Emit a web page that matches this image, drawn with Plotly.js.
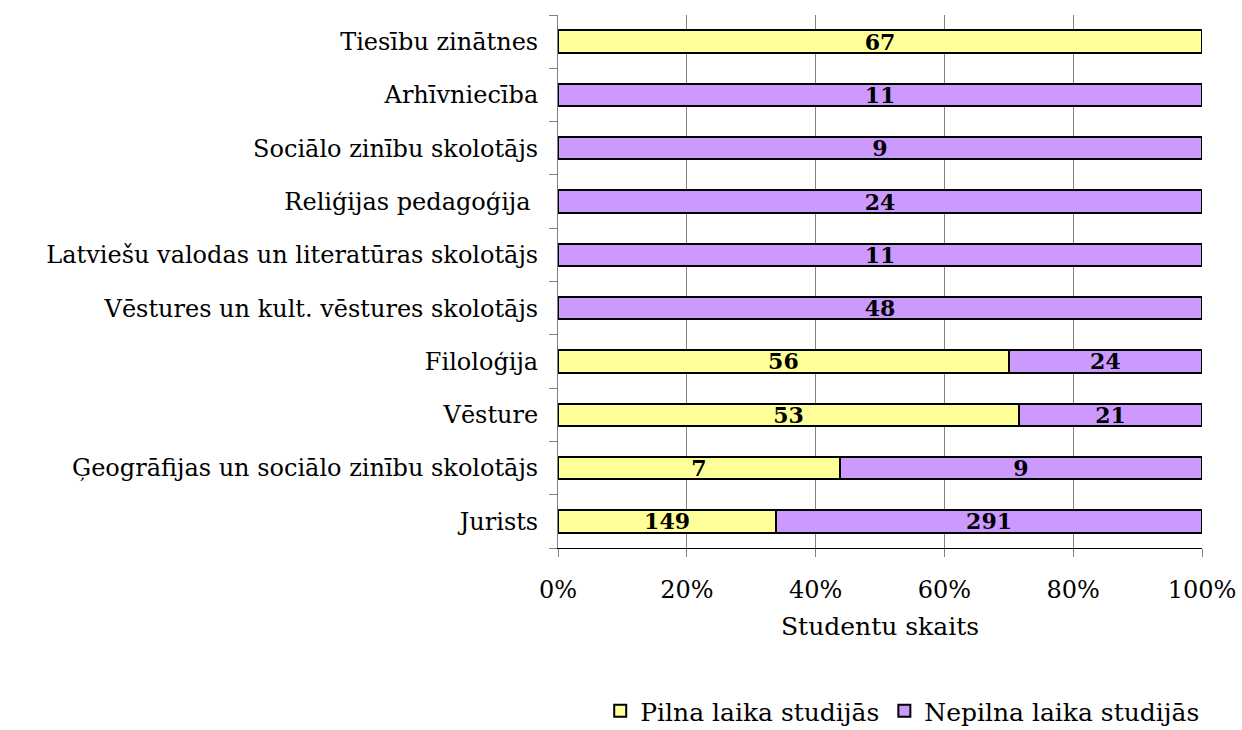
<!DOCTYPE html>
<html>
<head>
<meta charset="utf-8">
<script src="https://cdn.plot.ly/plotly-3.0.1.min.js"></script>
<style>
  body { margin: 0; background: #fff; }
  #graph { width: 1242px; height: 730px; }
</style>
</head>
<body>
<div id="graph"></div>
<script>
// programmes, bottom to top
var programmes = ['Jurists', 'Ģeogrāfijas un sociālo zinību skolotājs', 'Vēsture', 'Filoloģija',
  'Vēstures un kult. vēstures skolotājs', 'Latviešu valodas un literatūras skolotājs',
  'Reliģijas pedagoģija ', 'Sociālo zinību skolotājs', 'Arhīvniecība', 'Tiesību zinātnes'];

// student counts
var fullTime = [149, 7, 53, 56, 0, 0, 0, 0, 0, 67];
var partTime = [291, 9, 21, 24, 48, 11, 24, 9, 11, 0];

var xTicks = [0, 20, 40, 60, 80, 100];

function labels(arr) {
  return arr.map(function(v) { return v > 0 ? String(v) : ''; });
}

var serif = 'DejaVu Serif, Liberation Serif, serif';

var trace1 = {
  y: programmes,
  x: fullTime,
  text: labels(fullTime),
  name: 'Pilna laika studijās',
  type: 'bar',
  orientation: 'h',
  marker: { color: '#FFFF99', line: { color: '#000', width: 2 } },
  textposition: 'inside',
  insidetextanchor: 'middle',
  textangle: 0,
  textfont: { family: serif, size: 22, color: '#000', weight: 'bold' },
  hoverinfo: 'none'
};

var trace2 = {
  y: programmes,
  x: partTime,
  text: labels(partTime),
  name: 'Nepilna laika studijās',
  type: 'bar',
  orientation: 'h',
  marker: { color: '#CC99FF', line: { color: '#000', width: 2 } },
  textposition: 'inside',
  insidetextanchor: 'middle',
  textangle: 0,
  textfont: { family: serif, size: 22, color: '#000', weight: 'bold' },
  hoverinfo: 'none'
};

var layout = {
  width: 1242,
  height: 730,
  barmode: 'stack',
  barnorm: 'percent',
  bargap: 0.58,
  paper_bgcolor: '#fff',
  plot_bgcolor: '#fff',
  font: { family: serif, size: 24, color: '#000' },
  margin: { l: 558, r: 40, t: 15, b: 182 },
  uniformtext: { mode: 'show', minsize: 22 },
  xaxis: {
    range: [0, 100],
    tickvals: xTicks,
    ticktext: xTicks.map(function(v) { return v + '%'; }),
    showgrid: true,
    gridcolor: '#808080',
    gridwidth: 1,
    zeroline: false,
    showline: true,
    linecolor: '#000',
    linewidth: 1,
    ticks: 'outside',
    ticklen: 8,
    tickcolor: '#808080',
    ticklabelstandoff: 12,
    tickfont: { size: 24 },
    automargin: false,
    title: { text: 'Studentu skaits', font: { size: 25 }, standoff: 14 }
  },
  yaxis: {
    type: 'category',
    categoryorder: 'array',
    categoryarray: programmes,
    tickson: 'boundaries',
    ticks: 'outside',
    ticklen: 8,
    tickcolor: '#808080',
    showline: true,
    linecolor: '#808080',
    linewidth: 1,
    showgrid: false,
    zeroline: false,
    ticklabelstandoff: 14,
    automargin: false,
    tickfont: { size: 24 }
  },
  showlegend: true,
  legend: {
    orientation: 'h',
    xref: 'paper',
    x: 1.005,
    xanchor: 'right',
    yref: 'container',
    y: 0.026,
    yanchor: 'middle',
    font: { size: 25 },
    traceorder: 'normal'
  }
};

Plotly.newPlot('graph', [trace1, trace2], layout, { staticPlot: true });
</script>
</body>
</html>
